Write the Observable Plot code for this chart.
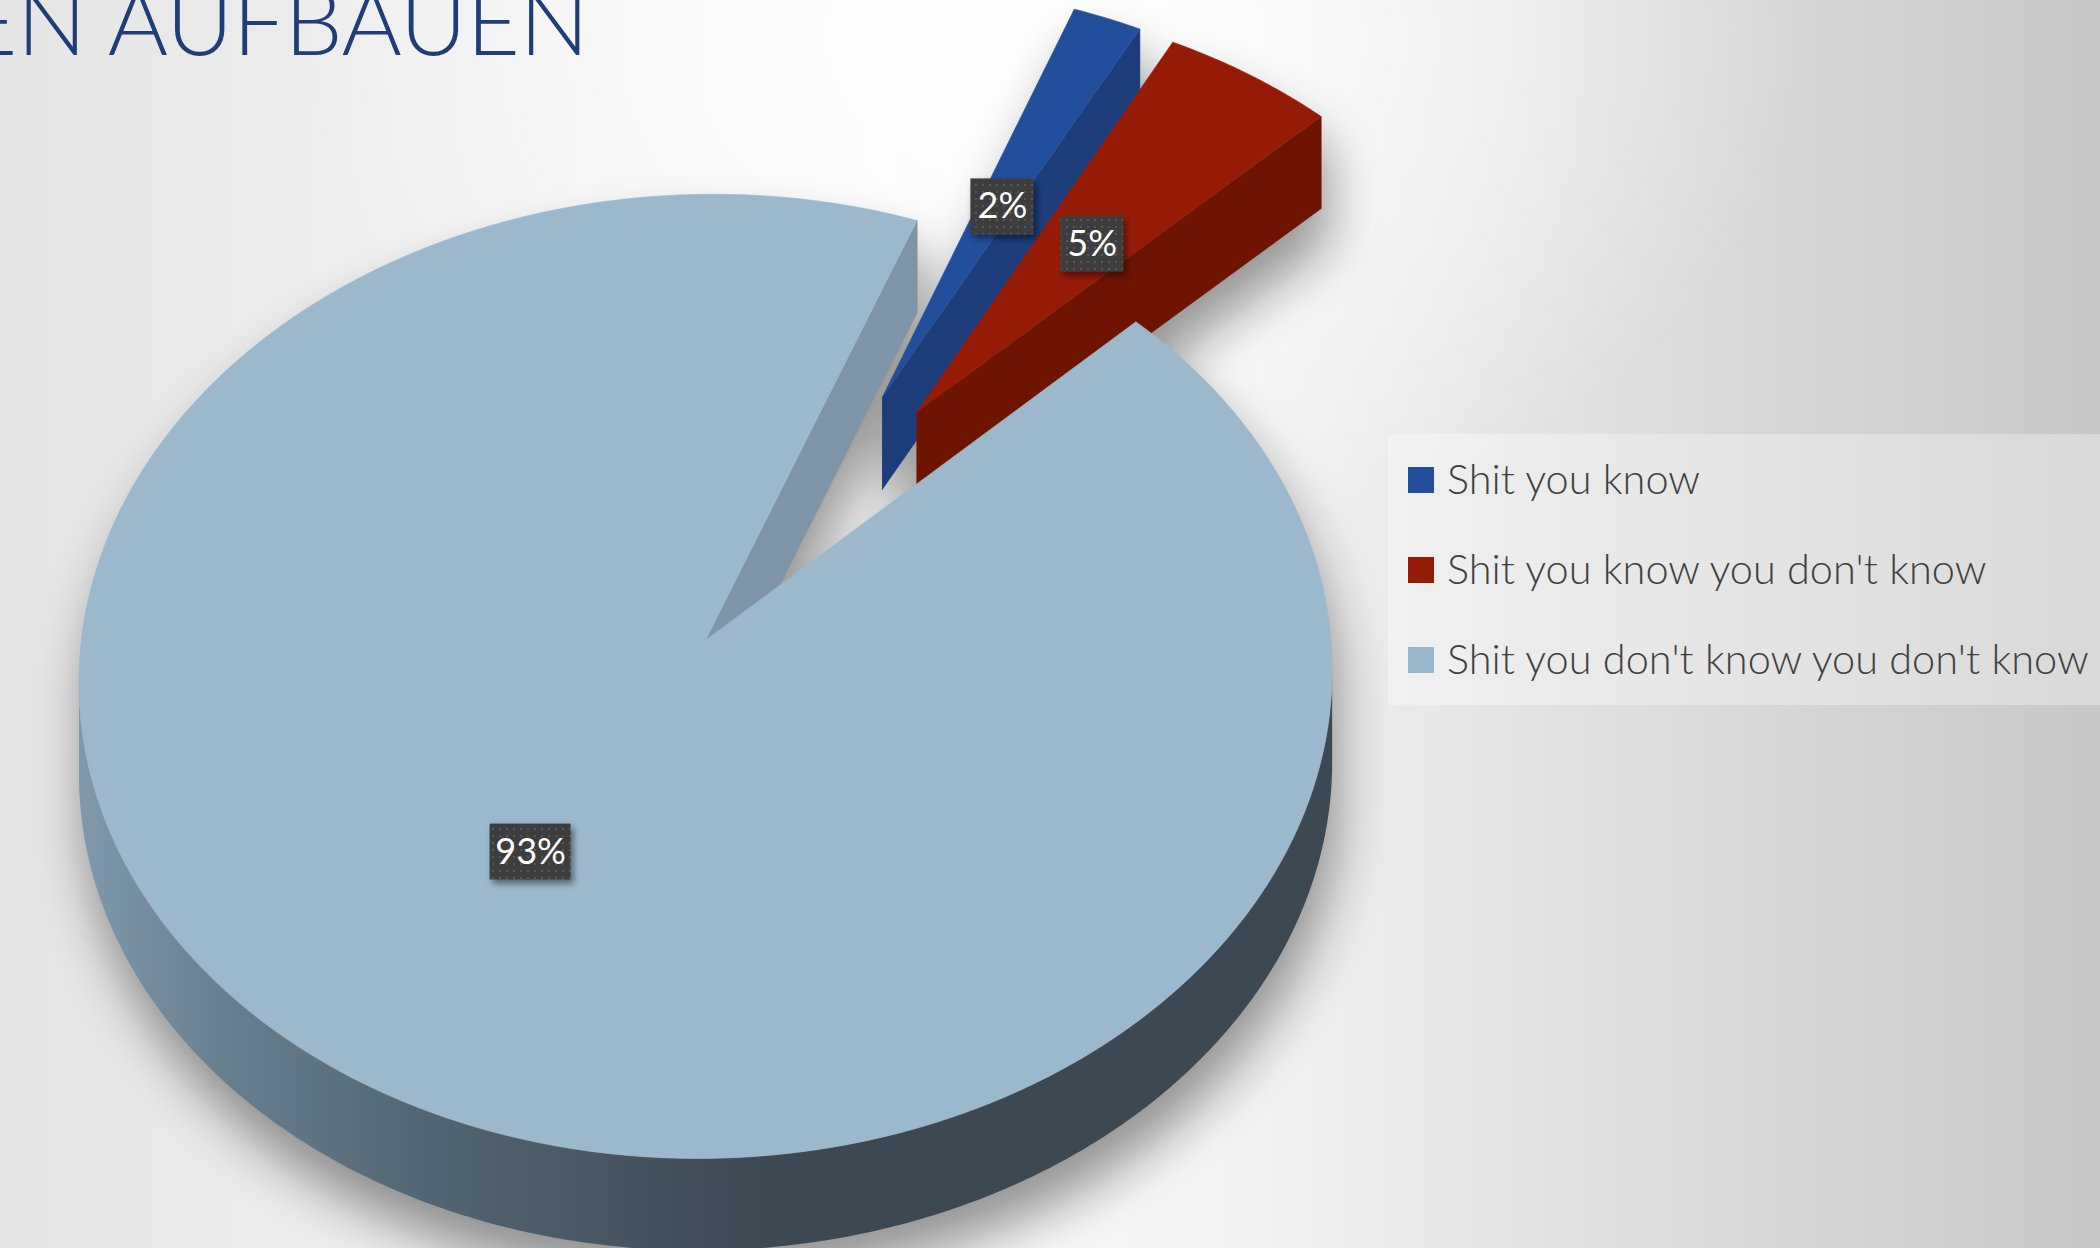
<!DOCTYPE html>
<html><head><meta charset="utf-8">
<script src="https://cdn.jsdelivr.net/npm/d3@7"></script>
<script src="https://cdn.jsdelivr.net/npm/@observablehq/plot@0.6"></script>
<style>
html,body{margin:0;padding:0;}
body{width:2100px;height:1248px;overflow:hidden;
background:
 radial-gradient(ellipse 760px 520px at 1050px 40px, rgba(255,255,255,0.95), rgba(255,255,255,0)),
 linear-gradient(90deg, #e5e5e5 0%, #efefef 20%, #f9f9f9 42%, #f3f3f3 58%, #e2e2e2 74%, #d1d1d1 90%, #c7c7c7 100%);}
#wrap{position:relative;width:2100px;height:1248px;}
#wrap > svg{position:absolute;left:0;top:0;}
</style></head><body><div id="wrap"></div>
<script>
// ---- data ----
const categories = ["Shit you know", "Shit you know you don't know", "Shit you don't know you don't know"];
const shares = [2, 5, 93];
const labels = ["2%", "5%", "93%"];
const titleText = "EN AUFBAUEN";

// ---- style ----
const topColors = ["#234e9c", "#951b07", "#9bb8cc"];
const sideColors = ["#1c3c7a", "#6d1403", "#7e95a8"];
const legendColors = ["#234e9c", "#951b07", "#97b6cc"];

// ---- 3D pie projection settings ----
const cx = 808, cy = 521, rx = 613, ry = 461.5, D = 13.4, H = 92, explode = 0.30, startAngle = 20.5;
const rad = d => d * Math.PI / 180;
function proj(u, v, z) { const k = D / (D - v); return {x: cx + rx * u * k, y: cy + ry * v * k + z * H}; }

let acc = startAngle;
const total = d3.sum(shares);
const slices = shares.map((s, i) => {
  const a0 = acc, a1 = acc + s / total * 360; acc = a1;
  const mid = (a0 + a1) / 2;
  return {i, a0, a1, mid, ou: explode * Math.sin(rad(mid)), ov: -explode * Math.cos(rad(mid))};
});
function rim(s, a, z) { return proj(s.ou + Math.sin(rad(a)), s.ov - Math.cos(rad(a)), z); }
function apex(s, z) { return proj(s.ou, s.ov, z); }
function arc(s, a0, a1, z) {
  const n = Math.max(2, Math.ceil(Math.abs(a1 - a0) / 0.5));
  return d3.range(n + 1).map(j => rim(s, a0 + (a1 - a0) * j / n, z));
}
function extremes(s) {
  let best = {max: -1e9, min: 1e9, aR: 90, aL: 270};
  for (let a = 0; a < 360; a += 0.1) {
    const p = rim(s, a, 0);
    if (p.x > best.max) { best.max = p.x; best.aR = a; }
    if (p.x < best.min) { best.min = p.x; best.aL = a; }
  }
  return best;
}

const polys = [];
const shadowPolys = [];
const ordered = slices.slice().sort((a, b) => a.ov - b.ov);
for (const s of ordered) {
  const top = [apex(s, 0), ...arc(s, s.a0, s.a1, 0)];
  const bottom = [apex(s, 1), ...arc(s, s.a0, s.a1, 1)];
  shadowPolys.push(top, bottom);
  for (const [a, nrm] of [[s.a1, s.a1 + 90], [s.a0, s.a0 - 90]]) {
    const face = [apex(s, 0), rim(s, a, 0), rim(s, a, 1), apex(s, 1)];
    shadowPolys.push(face);
    if (Math.cos(rad(nrm)) < 0) polys.push({pts: face, fill: sideColors[s.i], stroke: sideColors[s.i]});
  }
  const ex = extremes(s);
  for (const shift of [0, 360]) {
    const lo = Math.max(s.a0, ex.aR + shift), hi = Math.min(s.a1, ex.aL + shift);
    if (hi > lo) {
      const wall = [...arc(s, lo, hi, 0), ...arc(s, hi, lo, 1)];
      shadowPolys.push(wall);
      polys.push({pts: wall, fill: s.i === 2 ? "url(#wallGrad)" : sideColors[s.i], stroke: "none"});
    }
  }
  polys.push({pts: top, fill: topColors[s.i], stroke: topColors[s.i]});
}
const shadowRows = shadowPolys.flatMap((pts, j) => pts.map(p => ({id: j, x: p.x, y: p.y})));

const labelRows = slices.map(s => {
  const p = proj(s.ou + 0.5 * Math.sin(rad(s.mid)), s.ov - 0.5 * Math.cos(rad(s.mid)), 0);
  const t = labels[s.i];
  return {label: t, x: p.x + 4, y: p.y + 5, w: 27 + 18 * t.length, h: 56};
});

const marks = [
  Plot.line(shadowRows, {x: "x", y: "y", z: "id", fill: "#000", stroke: "none", dx: 6, dy: 34}),
  ...polys.map(p => Plot.line(p.pts, {x: "x", y: "y", fill: p.fill, stroke: p.stroke, strokeWidth: 0.6})),
  Plot.rect(labelRows, {x1: d => d.x - d.w / 2, x2: d => d.x + d.w / 2, y1: d => d.y - d.h / 2, y2: d => d.y + d.h / 2, fill: "url(#dots)"}),
  Plot.text(labelRows, {x: "x", y: "y", text: "label", fill: "white", fontSize: 36, fontWeight: 400, fontFamily: "Lato, 'Open Sans', sans-serif"})
];

const svg = Plot.plot({
  width: 2100, height: 1248, margin: 0,
  x: {type: "linear", domain: [0, 2100], range: [0, 2100], axis: null},
  y: {type: "linear", domain: [0, 1248], range: [0, 1248], axis: null},
  style: {background: "transparent", overflow: "visible"},
  marks
});
d3.select(svg).insert("defs", ":first-child").html(`
  <linearGradient id="wallGrad" gradientUnits="userSpaceOnUse" x1="70" y1="0" x2="780" y2="0">
    <stop offset="0" stop-color="#819aad"/>
    <stop offset="0.22" stop-color="#687f90"/>
    <stop offset="0.5" stop-color="#536572"/>
    <stop offset="1" stop-color="#3c4852"/>
  </linearGradient>
  <pattern id="dots" patternUnits="userSpaceOnUse" width="7" height="7">
    <rect width="7" height="7" fill="#3e3e3e"/>
    <rect x="2" y="2" width="2" height="2" fill="#575757"/>
  </pattern>
  <filter id="soft" x="-30%" y="-30%" width="160%" height="160%"><feGaussianBlur stdDeviation="26"/></filter>
  <filter id="boxsh" x="-30%" y="-30%" width="160%" height="160%"><feDropShadow dx="3" dy="4" stdDeviation="3" flood-color="#000" flood-opacity="0.45"/></filter>
`);
const groups = Array.from(svg.children).filter(el => el.tagName.toLowerCase() === "g");
const shadowG = groups[0];
const boxG = groups[groups.length - 2];
shadowG.setAttribute("filter", "url(#soft)");
shadowG.setAttribute("opacity", "0.4");
boxG.setAttribute("filter", "url(#boxsh)");
document.getElementById("wrap").appendChild(svg);

// ---- overlay: title and legend ----
const ov = d3.create("svg").attr("width", 2100).attr("height", 1248).style("overflow", "hidden");
ov.append("text").attr("x", -36).attr("y", 55)
  .attr("font-family", "Lato, 'Open Sans', sans-serif").attr("font-weight", 300).attr("font-size", 92)
  .attr("textLength", 625).attr("lengthAdjust", "spacing")
  .attr("fill", "#1f3d76").text(titleText);
const lg = ov.append("g");
lg.append("rect").attr("x", 1388).attr("y", 434).attr("width", 712).attr("height", 271).attr("fill", "rgba(255,255,255,0.32)");
categories.forEach((c, i) => {
  lg.append("rect").attr("x", 1408).attr("y", 467 + 90 * i).attr("width", 26).attr("height", 26).attr("fill", legendColors[i]);
  lg.append("text").attr("x", 1447).attr("y", 494 + 90 * i)
    .attr("font-family", "Lato, 'Open Sans', sans-serif").attr("font-weight", 300).attr("font-size", 41.5)
    .attr("fill", "#404040").text(c);
});
document.getElementById("wrap").appendChild(ov.node());
</script>
</body></html>
